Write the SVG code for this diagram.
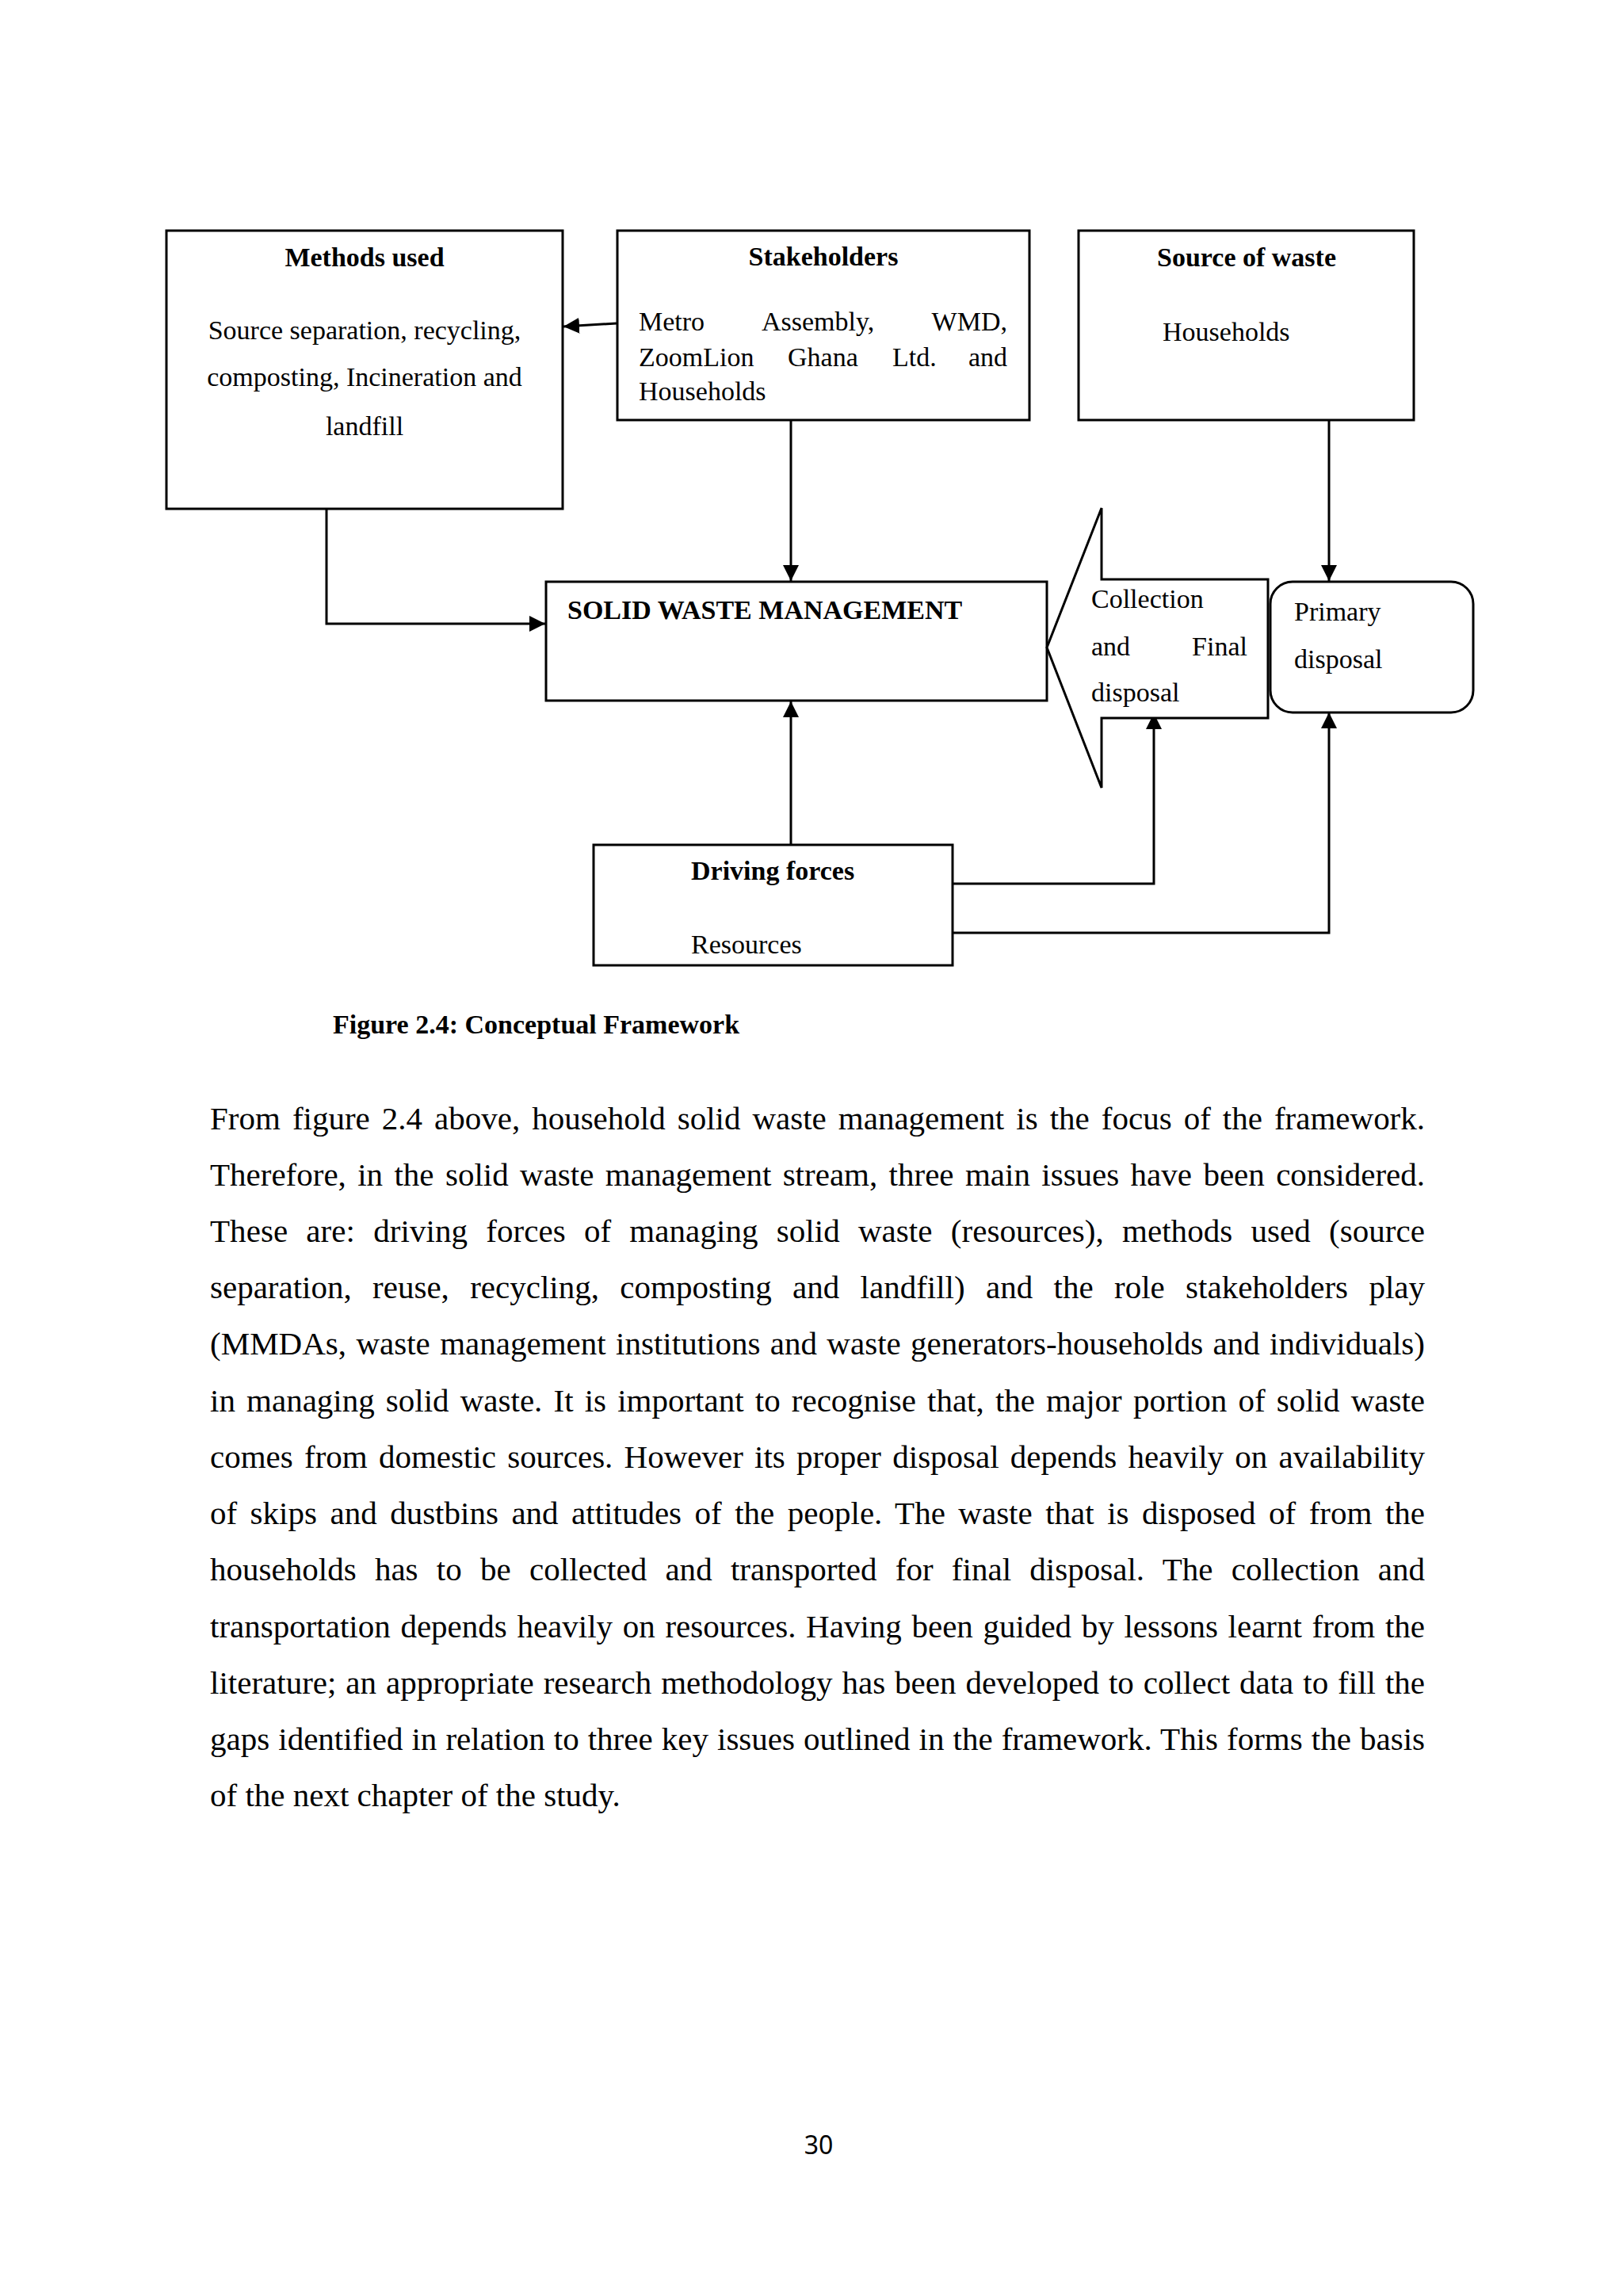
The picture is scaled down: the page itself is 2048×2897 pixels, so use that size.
<svg xmlns="http://www.w3.org/2000/svg" width="2048" height="2897" viewBox="0 0 2048 2897">
<style>
.bx{fill:#fff;stroke:#000;stroke-width:3}
.ln{fill:none;stroke:#000;stroke-width:3}
.t{font-family:"Liberation Serif","Times New Roman",serif;font-size:34px;fill:#000}
.b{font-weight:bold}
.p{font-family:"Liberation Serif","Times New Roman",serif;font-size:41px;fill:#000}
.pg{font-family:"Noto Sans","Open Sans",sans-serif;font-size:32px;fill:#000}
</style>
<defs>
<marker id="ah" markerUnits="userSpaceOnUse" markerWidth="20" markerHeight="20" refX="20" refY="10" orient="auto">
<path d="M0,0 L20,10 L0,20 z" fill="#000"/>
</marker>
</defs>
<rect width="2048" height="2897" fill="#fff"/>

<g id="connectors">
<line class="ln" x1="778" y1="408" x2="711" y2="412" marker-end="url(#ah)"/>
<line class="ln" x1="998" y1="530" x2="998" y2="733" marker-end="url(#ah)"/>
<path class="ln" d="M412,642 V787 H688" marker-end="url(#ah)"/>
<line class="ln" x1="1677" y1="530" x2="1677" y2="733" marker-end="url(#ah)"/>
<line class="ln" x1="998" y1="1066" x2="998" y2="885" marker-end="url(#ah)"/>
<path class="ln" d="M1202,1115 H1456 V900" marker-end="url(#ah)"/>
<path class="ln" d="M1202,1177 H1677 V899" marker-end="url(#ah)"/>
</g>

<g id="methods">
<rect class="bx" x="210" y="291" width="500" height="351"/>
<text class="t b" x="460" y="336" text-anchor="middle">Methods used</text>
<text class="t" x="460" y="428" text-anchor="middle">Source separation, recycling,</text>
<text class="t" x="460" y="487" text-anchor="middle">composting, Incineration and</text>
<text class="t" x="460" y="549" text-anchor="middle">landfill</text>
</g>

<g id="stakeholders">
<rect class="bx" x="779" y="291" width="520" height="239"/>
<text class="t b" x="1039" y="335" text-anchor="middle">Stakeholders</text>
<text class="t" y="417"><tspan x="806">Metro</tspan><tspan x="961">Assembly,</tspan><tspan x="1271" text-anchor="end">WMD,</tspan></text>
<text class="t" y="462"><tspan x="806">ZoomLion</tspan><tspan x="994">Ghana</tspan><tspan x="1126">Ltd.</tspan><tspan x="1271" text-anchor="end">and</tspan></text>
<text class="t" x="806" y="505">Households</text>
</g>

<g id="source">
<rect class="bx" x="1361" y="291" width="423" height="239"/>
<text class="t b" x="1573" y="336" text-anchor="middle">Source of waste</text>
<text class="t" x="1467" y="430">Households</text>
</g>

<g id="swm">
<rect class="bx" x="689" y="734" width="632" height="150"/>
<text class="t b" x="716" y="781">SOLID WASTE MANAGEMENT</text>
</g>

<g id="collection">
<polygon class="bx" points="1321,817 1390,641 1390,731 1600,731 1600,906 1390,906 1390,994"/>
<text class="t" x="1377" y="767">Collection</text>
<text class="t" x="1377" y="827">and</text>
<text class="t" x="1574" y="827" text-anchor="end">Final</text>
<text class="t" x="1377" y="885">disposal</text>
</g>

<g id="primary">
<rect class="bx" x="1603" y="734" width="256" height="165" rx="28" ry="28"/>
<text class="t" x="1633" y="783">Primary</text>
<text class="t" x="1633" y="843">disposal</text>
</g>

<g id="driving">
<rect class="bx" x="749" y="1066" width="453" height="152"/>
<text class="t b" x="872" y="1110">Driving forces</text>
<text class="t" x="872" y="1203">Resources</text>
</g>

<text class="t b" x="420" y="1304">Figure 2.4: Conceptual Framework</text>

<g id="paragraph">
<text class="p" x="265" y="1425" word-spacing="4.8" textLength="1533" lengthAdjust="spacing">From figure 2.4 above, household solid waste management is the focus of the framework.</text>
<text class="p" x="265" y="1496" word-spacing="4.1" textLength="1533" lengthAdjust="spacing">Therefore, in the solid waste management stream, three main issues have been considered.</text>
<text class="p" x="265" y="1567" word-spacing="12.9" textLength="1533" lengthAdjust="spacing">These are: driving forces of managing solid waste (resources), methods used (source</text>
<text class="p" x="265" y="1638" word-spacing="16.1" textLength="1533" lengthAdjust="spacing">separation, reuse, recycling, composting and landfill) and the role stakeholders play</text>
<text class="p" x="265" y="1709" word-spacing="2.1" textLength="1533" lengthAdjust="spacing">(MMDAs, waste management institutions and waste generators-households and individuals)</text>
<text class="p" x="265" y="1781" word-spacing="3.9" textLength="1533" lengthAdjust="spacing">in managing solid waste. It is important to recognise that, the major portion of solid waste</text>
<text class="p" x="265" y="1852" word-spacing="4.0" textLength="1533" lengthAdjust="spacing">comes from domestic sources. However its proper disposal depends heavily on availability</text>
<text class="p" x="265" y="1923" word-spacing="6.2" textLength="1533" lengthAdjust="spacing">of skips and dustbins and attitudes of the people. The waste that is disposed of from the</text>
<text class="p" x="265" y="1994" word-spacing="13.0" textLength="1533" lengthAdjust="spacing">households has to be collected and transported for final disposal. The collection and</text>
<text class="p" x="265" y="2066" word-spacing="2.4" textLength="1533" lengthAdjust="spacing">transportation depends heavily on resources. Having been guided by lessons learnt from the</text>
<text class="p" x="265" y="2137" word-spacing="1.7" textLength="1533" lengthAdjust="spacing">literature; an appropriate research methodology has been developed to collect data to fill the</text>
<text class="p" x="265" y="2208" word-spacing="0.8" textLength="1533" lengthAdjust="spacing">gaps identified in relation to three key issues outlined in the framework. This forms the basis</text>
<text class="p" x="265" y="2279">of the next chapter of the study.</text>
</g>

<text class="pg" x="1033" y="2718" text-anchor="middle">30</text>
</svg>
